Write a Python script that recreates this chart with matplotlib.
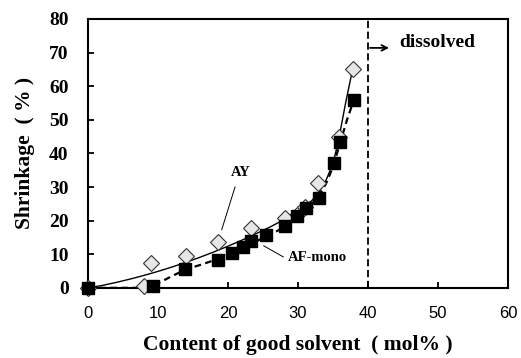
import matplotlib.pyplot as plt

# measured points
ay_x = [0, 8, 9, 14, 18.5, 23.3, 28.1, 30, 31, 32.8, 35.8, 37.8]
ay_y = [0, 0.5, 7.5, 9.5, 13.7, 17.9, 20.8, 22, 24, 31.2, 45, 65]
af_x = [0, 9.3, 13.9, 18.6, 20.5, 22.2, 23.3, 25.4, 28.2, 29.9, 31.2, 33, 35.1, 36, 38]
af_y = [0, 0.6, 5.7, 8.3, 10.4, 12.2, 14, 15.8, 18.5, 21.4, 23.8, 26.8, 37, 43.5, 56]

# fitted curves
ay_fit_x = [0, 2, 4, 6, 8, 10, 12, 14, 16, 18, 20, 22, 24, 26, 28, 30, 32, 33, 34, 35, 35.8, 36.8, 37.8]
ay_fit_y = [0, 0.7, 1.6, 2.6, 3.7, 4.9, 6.2, 7.6, 9.1, 10.7, 12.4, 14.2, 16.1, 18.1, 20.3, 22.8, 26, 28.5, 32, 37, 44, 55, 65]
af_fit_x = [0, 4, 8, 9.3, 12, 14, 16, 18.6, 20.5, 22, 24, 26, 28, 30, 32, 33, 34, 35, 36, 37, 38]
af_fit_y = [0, 0, 0, 0.6, 3.5, 5.5, 6.8, 8.6, 10.3, 12, 13.8, 15.8, 18, 21, 25, 27.5, 31, 36, 43, 50, 56]

serif = 'Liberation Serif'
sans = 'Liberation Sans'

fig = plt.figure(figsize=(5.21, 3.58), dpi=100)
ax = fig.add_axes([0.169, 0.196, 0.806, 0.751])

ax.plot(ay_fit_x, ay_fit_y, '-', color='black', lw=1.0, zorder=2)
ax.plot(af_fit_x, af_fit_y, '--', color='black', lw=1.6, dashes=(3, 2), zorder=2)
ax.plot(ay_x, ay_y, 'D', mfc='#e6e6e6', mec='#333333', mew=0.8, ms=8, zorder=3, clip_on=False)
ax.plot(af_x, af_y, 's', color='black', ms=8.5, zorder=4, clip_on=False)

ax.axvline(40, color='black', lw=1.3, ls='--', dashes=(4, 2))
ax.annotate('', xy=(43.4, 71.4), xytext=(39.9, 71.4),
            arrowprops=dict(arrowstyle='->', lw=1.3, color='black'))
ax.text(44.4, 72.9, 'dissolved', family=serif, weight='bold', fontsize=14, va='center')

ax.plot([21, 19.1], [30, 17.3], color='black', lw=0.7)
ax.text(21.8, 34.2, 'AY', family=serif, weight='bold', fontsize=10.5, ha='center', va='center')
ax.plot([25.1, 27.9], [12.5, 9.2], color='black', lw=0.7)
ax.text(28.5, 9, 'AF-mono', family=serif, weight='bold', fontsize=10.5, va='center')

ax.set_xlim(0, 60)
ax.set_ylim(0, 80)
ax.set_xticks(range(0, 61, 10))
ax.set_yticks(range(0, 81, 10))
ax.tick_params(direction='in', length=4, width=1.3, top=False, right=False)
ax.tick_params(axis='x', pad=13)
ax.tick_params(axis='y', pad=14)
for lab in ax.get_xticklabels():
    lab.set_family(sans)
    lab.set_fontsize(12)
for lab in ax.get_yticklabels():
    lab.set_family(serif)
    lab.set_weight('bold')
    lab.set_fontsize(14)
for s in ax.spines.values():
    s.set_linewidth(1.5)

ax.set_xlabel('Content of good solvent  ( mol% )', family=serif, weight='bold', fontsize=15.5, labelpad=10)
ax.set_ylabel('Shrinkage  ( % )', family=serif, weight='bold', fontsize=15.5, labelpad=10)

fig.savefig('out.png', dpi=100)
